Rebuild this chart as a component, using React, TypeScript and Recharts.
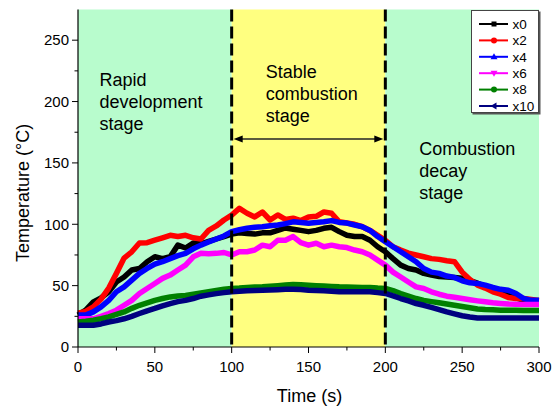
import { LineChart, Line, XAxis, YAxis, Legend, ReferenceArea, ReferenceLine, ReferenceDot } from "recharts";

const FONT = '"Liberation Sans", Arial, sans-serif';

// time axis, seconds
const time = [
  0, 5, 10, 15, 20, 25, 30, 35, 40, 45, 50, 55, 60, 65, 70, 75, 80, 85, 90, 95,
  100, 105, 110, 115, 120, 125, 130, 135, 140, 145, 150, 155, 160, 165, 170, 175, 180, 185, 190, 195,
  200, 205, 210, 215, 220, 225, 230, 235, 240, 245, 250, 255, 260, 265, 270, 275, 280, 285, 290, 295, 300,
];

// temperatures (°C)
const x0 = [
  26, 30, 36.8, 40, 45, 53, 57, 62.7, 64, 69.5, 73.5, 72, 73.5, 83, 80.7, 84.7, 84, 86, 88, 90,
  92, 93, 92.5, 92, 93, 93, 95, 97, 96, 95, 94, 95, 96.7, 97.5, 94, 91, 90, 90, 87, 81.7,
  77.6, 72, 66.7, 64, 62.7, 60, 58.6, 57.5, 57, 56.7, 56, 54, 52, 49.5, 47, 45, 42, 40, 38, 37, 37,
];
const x2 = [
  27.5, 29, 32.7, 39, 48, 60, 72.5, 77.6, 84.7, 85, 87, 89, 91, 90, 91, 89, 88, 95, 98.6, 103.5,
  107.5, 113, 109, 106, 110, 103.5, 107.6, 104, 105, 103, 106, 106.5, 110, 109, 102, 101, 100, 98, 95, 91,
  87, 81.7, 79, 76.5, 75, 73.5, 72, 71.4, 70.3, 69.5, 61, 55, 50.4, 48, 45, 43, 40.3, 39.5, 39.5, 38.7, 38,
];
const x4 = [
  26, 26, 28.6, 32.7, 38, 45, 49, 54.5, 60, 64, 67.6, 69.5, 72, 74.4, 76.3, 80, 83, 85.5, 88, 90.5,
  94, 95.5, 96.7, 97.5, 98, 98.8, 99.4, 100.5, 102, 101.5, 100.8, 101.5, 102, 103, 101.5, 101, 99.4, 98, 95, 90,
  85.8, 81.7, 77.6, 73.5, 69.5, 64, 61, 60, 57.8, 56.7, 54, 52.3, 51.8, 50.4, 48.5, 47, 46.3, 43.6, 39.5, 38, 38,
];
const x6 = [
  23, 23, 23, 25, 27.3, 30, 34, 38, 43.6, 47.7, 51.8, 55.9, 58.6, 62.7, 66.7, 73.5, 76.3, 76, 76.3, 77,
  75, 77.6, 77.6, 79, 83, 81.7, 87, 87, 90, 85, 83, 84.5, 81.7, 83, 81.7, 81, 79, 77.6, 75, 70.8,
  66.7, 61, 57, 53, 49, 47.7, 45, 43, 41.4, 40.5, 39.5, 38.5, 37.6, 36.8, 36, 35.5, 35, 34.8, 34.6, 34.6, 34.6,
];
const x8 = [
  20.4, 21, 21.8, 23, 24.5, 26.5, 28.6, 31.5, 34, 36, 38, 39.5, 40.8, 41.5, 42, 43, 44, 45, 46, 47,
  47.7, 48, 48.5, 48.8, 49, 49.5, 50, 50.5, 51, 50.8, 50.4, 50, 49.7, 49.4, 49, 48.8, 48.6, 48.5, 48.5, 48,
  47.7, 46, 43.6, 41.5, 39.5, 38, 37, 36, 35, 34, 33, 32, 31, 30.5, 30.3, 30, 30, 30, 29.8, 29.8, 29.8,
];
const x10 = [
  17.7, 17.7, 17.7, 18.8, 20.4, 21.5, 23, 25, 27.3, 29.5, 31.4, 33.5, 35.4, 37, 38, 39.5, 41.4, 42.5, 43.5, 44.3,
  45, 45.5, 45.8, 46, 46.3, 46.5, 46.7, 47, 47, 46.8, 46.3, 46, 45.8, 45.5, 45, 45, 45, 45, 45, 44.3,
  43.6, 41.7, 39.5, 37.5, 35.4, 34, 32.2, 30.5, 28.6, 27, 25.5, 24.5, 23.7, 23.7, 23.7, 23.7, 23.7, 23.7, 23.7, 23.7, 23.7,
];

const xTicks = [0, 25, 50, 75, 100, 125, 150, 175, 200, 225, 250, 275, 300];
const yTicks = [0, 25, 50, 75, 100, 125, 150, 175, 200, 225, 250];

const series = [
  { key: "x0", name: "x0", color: "#000000", marker: "square" },
  { key: "x2", name: "x2", color: "#ff0000", marker: "circle" },
  { key: "x4", name: "x4", color: "#0000ff", marker: "up" },
  { key: "x6", name: "x6", color: "#ff00ff", marker: "down" },
  { key: "x8", name: "x8", color: "#008000", marker: "circle" },
  { key: "x10", name: "x10", color: "#000080", marker: "left" },
];

const data = time.map((t, i) => ({ t, x0: x0[i], x2: x2[i], x4: x4[i], x6: x6[i], x8: x8[i], x10: x10[i] }));

const GREEN = "#b8fccd";
const YELLOW = "#ffff80";

function BottomTick({ x, y, payload }: any) {
  const major = payload.value % 50 === 0;
  return (
    <g>
      <line x1={x} y1={y} x2={x} y2={y + (major ? 6 : 3.5)} stroke="#000" />
      {major && (
        <text x={x} y={y + 25} textAnchor="middle" fontSize={15} fontFamily={FONT} fill="#000">
          {payload.value}
        </text>
      )}
    </g>
  );
}

function LeftTick({ x, y, payload }: any) {
  const major = payload.value % 50 === 0;
  return (
    <g>
      <line x1={x} y1={y} x2={x - (major ? 6 : 3.5)} y2={y} stroke="#000" />
      {major && (
        <text x={x - 9} y={y + 5.3} textAnchor="end" fontSize={15} fontFamily={FONT} fill="#000">
          {payload.value}
        </text>
      )}
    </g>
  );
}

function TopTick({ x, y, payload }: any) {
  const major = payload.value % 50 === 0;
  return <line x1={x} y1={y} x2={x} y2={y + (major ? 6 : 3.5)} stroke="#000" />;
}

function RightTick({ x, y, payload }: any) {
  const major = payload.value % 50 === 0;
  return <line x1={x} y1={y} x2={x - (major ? 6 : 3.5)} y2={y} stroke="#000" />;
}

function Marker({ type, cx, cy, color }: { type: string; cx: number; cy: number; color: string }) {
  if (type === "square") return <rect x={cx - 2.5} y={cy - 2.5} width={5} height={5} fill={color} />;
  if (type === "circle") return <circle cx={cx} cy={cy} r={3} fill={color} />;
  if (type === "up") return <polygon points={`${cx},${cy - 3.5} ${cx - 3.5},${cy + 2.5} ${cx + 3.5},${cy + 2.5}`} fill={color} />;
  if (type === "down") return <polygon points={`${cx},${cy + 3.5} ${cx - 3.5},${cy - 2.5} ${cx + 3.5},${cy - 2.5}`} fill={color} />;
  return <polygon points={`${cx - 3.5},${cy} ${cx + 2.5},${cy - 3.5} ${cx + 2.5},${cy + 3.5}`} fill={color} />;
}

function LegendBox() {
  return (
    <svg
      width={66}
      height={101}
      style={{ display: "block", background: "#fff", border: "1px solid #444", boxShadow: "1.5px 1.5px 0 #555" }}
    >
      {series.map((s, i) => {
        const cy = 13 + i * 16.4;
        return (
          <g key={s.key}>
            <line x1={7} y1={cy} x2={36} y2={cy} stroke={s.color} strokeWidth={2} />
            <Marker type={s.marker} cx={22} cy={cy} color={s.color} />
            <text x={40.5} y={cy + 4.7} fontSize={13.5} fontFamily={FONT} fill="#000">
              {s.name}
            </text>
          </g>
        );
      })}
    </svg>
  );
}

function StageLabel({ cx, cy, lines }: { cx: number; cy: number; lines: string[] }) {
  return (
    <text x={cx} y={cy} fontSize={18} fontFamily={FONT} fill="#000">
      {lines.map((l, i) => (
        <tspan key={i} x={cx} dy={i === 0 ? 0 : 22}>
          {l}
        </tspan>
      ))}
    </text>
  );
}

function DoubleArrow(p: any) {
  const { x1, y1, x2 } = p;
  const y = y1;
  return (
    <g>
      <line x1={x1 + 8} y1={y} x2={x2 - 8} y2={y} stroke="#5b5b3c" strokeWidth={2} />
      <polygon points={`${x1 + 2},${y} ${x1 + 11},${y - 3.5} ${x1 + 11},${y + 3.5}`} fill="#000" />
      <polygon points={`${x2 - 2},${y} ${x2 - 11},${y - 3.5} ${x2 - 11},${y + 3.5}`} fill="#000" />
    </g>
  );
}

export default function App() {
  return (
    <div style={{ width: 559, height: 408, position: "relative", fontFamily: FONT }}>
      <style>{"body{margin:0}"}</style>
      <LineChart width={559} height={408} data={data} margin={{ top: 9.5, right: 20, bottom: 0, left: 0 }}>
        <ReferenceArea x1={0} x2={100} y1={0} y2={275} fill={GREEN} fillOpacity={1} stroke="none" />
        <ReferenceArea x1={100} x2={200} y1={0} y2={275} fill={YELLOW} fillOpacity={1} stroke="none" />
        <ReferenceArea x1={200} x2={300} y1={0} y2={275} fill={GREEN} fillOpacity={1} stroke="none" />

        <XAxis
          dataKey="t"
          type="number"
          domain={[0, 300]}
          ticks={xTicks}
          interval={0}
          height={61}
          tickSize={0}
          tickMargin={0}
          tickLine={false}
          tick={BottomTick}
          axisLine={{ stroke: "#000", strokeWidth: 1.2 }}
          label={() => (
            <text x={309.5} y={402} textAnchor="middle" fontSize={18} fontFamily={FONT} fill="#000">
              Time (s)
            </text>
          )}
        />
        <XAxis
          xAxisId="top"
          dataKey="t"
          type="number"
          orientation="top"
          domain={[0, 300]}
          ticks={xTicks}
          interval={0}
          height={0}
          tickSize={0}
          tickMargin={0}
          tickLine={false}
          tick={TopTick}
          axisLine={{ stroke: "#000", strokeWidth: 1.2 }}
        />
        <YAxis
          type="number"
          domain={[0, 275]}
          ticks={yTicks}
          interval={0}
          width={78}
          tickSize={0}
          tickMargin={0}
          tickLine={false}
          tick={LeftTick}
          axisLine={{ stroke: "#000", strokeWidth: 1.2 }}
          label={() => (
            <text
              x={29}
              y={193}
              transform="rotate(-90 29 193)"
              textAnchor="middle"
              fontSize={18}
              fontFamily={FONT}
              fill="#000"
            >
              Temperature (°C)
            </text>
          )}
        />
        <YAxis
          yAxisId="right"
          orientation="right"
          type="number"
          domain={[0, 275]}
          ticks={yTicks}
          interval={0}
          width={0}
          tickSize={0}
          tickMargin={0}
          tickLine={false}
          tick={RightTick}
          axisLine={{ stroke: "#000", strokeWidth: 1.2 }}
        />

        {series.map((s) => (
          <Line
            key={s.key}
            dataKey={s.key}
            name={s.name}
            type="linear"
            stroke={s.color}
            strokeWidth={5.5}
            strokeLinejoin="round"
            dot={false}
            isAnimationActive={false}
          />
        ))}

        <ReferenceLine
          segment={[{ x: 100, y: 275 }, { x: 100, y: 0 }]}
          stroke="#000"
          strokeWidth={3}
          strokeDasharray="12 5"
        />
        <ReferenceLine
          segment={[{ x: 200, y: 275 }, { x: 200, y: 0 }]}
          stroke="#000"
          strokeWidth={3}
          strokeDasharray="12 5"
        />
        <ReferenceLine segment={[{ x: 100, y: 169.5 }, { x: 200, y: 169.5 }]} shape={DoubleArrow} />

        <ReferenceDot
          x={14}
          y={213}
          r={0}
          shape={(p: any) => <StageLabel cx={p.cx} cy={p.cy} lines={["Rapid", "development", "stage"]} />}
        />
        <ReferenceDot
          x={122.1}
          y={219.2}
          r={0}
          shape={(p: any) => <StageLabel cx={p.cx} cy={p.cy} lines={["Stable", "combustion", "stage"]} />}
        />
        <ReferenceDot
          x={222.1}
          y={156.8}
          r={0}
          shape={(p: any) => <StageLabel cx={p.cx} cy={p.cy} lines={["Combustion", "decay", "stage"]} />}
        />

        <Legend
          layout="vertical"
          align="center"
          verticalAlign="middle"
          wrapperStyle={{ left: 471, top: 10, width: "auto" }}
          content={() => <LegendBox />}
        />
      </LineChart>
    </div>
  );
}
